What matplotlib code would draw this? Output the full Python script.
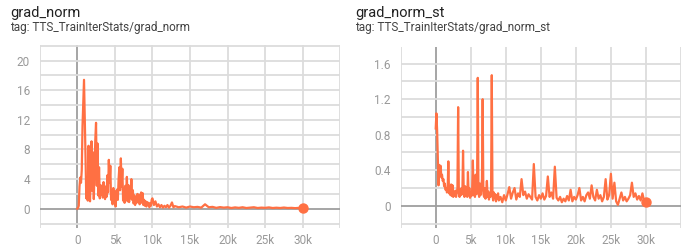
import matplotlib
matplotlib.use("Agg")
import matplotlib.pyplot as plt
import numpy as np

plt.rcParams['font.family'] = ['Roboto', 'DejaVu Sans']

# grad_norm: logged every 100 steps up to 10k, then sparser
gn_steps = np.concatenate([np.arange(0, 10001, 100),
                           np.arange(10200, 13001, 200),
                           np.arange(13500, 30001, 500)])
gn_vals = [
    0.0, 0.1, 0.4, 3.0, 4.2, 3.5, 5.2, 11.2, 14.5, 17.4,      # 0 - 0.9k
    12.5, 7.0, 1.4, 4.0, 1.1, 8.5, 2.2, 1.0, 4.8, 9.1,       # 1k - 1.9k
    2.4, 7.6, 1.3, 5.2, 9.3, 11.6, 3.1, 8.8, 1.8, 5.6,       # 2k - 2.9k
    1.4, 3.2, 1.9, 2.8, 1.5, 3.6, 2.0, 1.3, 3.0, 1.6,        # 3k
    4.5, 2.2, 6.6, 3.5, 5.8, 1.2, 2.5, 0.6, 2.8, 1.0,        # 4k
    2.4, 0.3, 1.8, 2.6, 1.2, 4.0, 5.6, 2.5, 6.8, 3.0,        # 5k
    5.4, 1.1, 2.8, 0.8, 3.1, 1.5, 4.3, 1.0, 3.2, 0.9,        # 6k
    2.6, 1.4, 4.0, 1.2, 2.5, 0.7, 1.8, 0.5, 1.6, 0.8,        # 7k
    2.0, 1.0, 1.9, 0.6, 1.5, 2.2, 0.8, 2.1, 0.5, 1.2,        # 8k
    0.4, 1.0, 0.3, 0.9, 0.5, 0.8, 0.2, 0.7, 0.4, 1.2,        # 9k
    1.4,                                                     # 10k
    0.5, 1.0, 0.3, 0.6, 0.2, 0.5, 0.15, 0.4, 0.2, 0.5,       # 10.2k - 12k
    0.15, 0.4, 0.85, 0.2, 0.35,                              # 12.2k - 13k
    0.2, 0.3, 0.15, 0.3, 0.2, 0.25, 0.15, 0.6, 0.2, 0.25,    # 13.5k - 18k
    0.12, 0.22, 0.15, 0.2, 0.1, 0.18, 0.12, 0.2, 0.1, 0.15,  # 18.5k - 23k
    0.2, 0.1, 0.15, 0.12, 0.18, 0.1, 0.14, 0.1, 0.16, 0.1,   # 23.5k - 28k
    0.12, 0.08, 0.12, 0.1,                                   # 28.5k - 30k
]

# grad_norm_st
st_steps = np.concatenate([np.arange(0, 9001, 100),
                           np.arange(9250, 30001, 250)])
st_vals = [
    0.87, 1.04, 0.85, 0.55, 0.23, 0.46, 0.38, 0.45, 0.32, 0.35,  # 0k
    0.28, 0.30, 0.22, 0.25, 0.18, 0.20, 0.15, 0.18, 0.50, 0.14,  # 1k
    0.17, 0.12, 0.24, 0.11, 0.23, 0.10, 0.15, 0.12, 0.17, 0.10,  # 2k
    0.14, 0.20, 1.11, 0.15, 0.10, 0.18, 0.12, 0.20, 0.13, 0.62,  # 3k
    0.15, 0.10, 0.22, 0.12, 0.17, 0.10, 0.38, 0.12, 0.20, 0.09,  # 4k
    0.15, 0.11, 0.18, 0.51, 0.12, 0.20, 0.10, 0.35, 0.13, 0.22,  # 5k
    1.44, 0.15, 0.10, 0.25, 0.12, 0.18, 0.30, 1.20, 0.14, 0.10,  # 6k
    0.20, 0.08, 0.15, 0.28, 0.10, 0.16, 0.07, 0.14, 0.10, 0.20,  # 7k
    1.47, 0.12, 0.06, 0.15, 0.09, 0.13, 0.05, 0.12, 0.08, 0.14,  # 8k
    0.06,                                                        # 9k
    0.10, 0.04, 0.12, 0.06,   # 9.25k - 10k
    0.13, 0.21, 0.08, 0.15,   # 11k
    0.20, 0.07, 0.14, 0.10,   # 12k
    0.30, 0.12, 0.16, 0.08,   # 13k
    0.13, 0.10, 0.07, 0.47,   # 14k
    0.10, 0.06, 0.12, 0.08,   # 15k
    0.14, 0.07, 0.11, 0.33,   # 16k
    0.10, 0.15, 0.08, 0.44,   # 17k
    0.09, 0.06, 0.10, 0.04,   # 18k
    0.08, 0.05, 0.11, 0.06,   # 19k
    0.18, 0.05, 0.10, 0.07,   # 20k
    0.12, 0.20, 0.06, 0.10,   # 21k
    0.05, 0.12, 0.15, 0.08,   # 22k
    0.23, 0.10, 0.06, 0.18,   # 23k
    0.08, 0.12, 0.05, 0.10,   # 24k
    0.30, 0.07, 0.12, 0.36,   # 25k
    0.08, 0.26, 0.05, 0.01,   # 26k
    0.08, 0.15, 0.06, 0.10,   # 27k
    0.05, 0.08, 0.12, 0.26,   # 28k
    0.10, 0.14, 0.07, 0.11,   # 29k
    0.06, 0.14, 0.05, 0.04,   # 30k
]

xticks = [0, 5000, 10000, 15000, 20000, 25000, 30000]
xlabels = ['0', '5k', '10k', '15k', '20k', '25k', '30k']

line_color = '#ff7043'
grid_color = '#dcdcdc'
zero_color = '#9e9e9e'
tick_color = '#999999'

fig = plt.figure(figsize=(6.9, 2.5), dpi=100)

panels = [
    dict(rect=[0.0575, 0.088, 0.4357, 0.732], x=gn_steps, y=gn_vals,
         ylim=(-2.6, 22.1), ygrid=np.arange(-2, 22.1, 2), yticks=[0, 4, 8, 12, 16, 20],
         ylabels=['0', '4', '8', '12', '16', '20'],
         title='grad_norm', tag='tag: TTS_TrainIterStats/grad_norm', tx=10),
    dict(rect=[0.5807, 0.088, 0.4062, 0.725], x=st_steps, y=st_vals,
         ylim=(-0.25, 1.79), ygrid=np.arange(-0.2, 1.81, 0.2), yticks=[0, 0.4, 0.8, 1.2, 1.6],
         ylabels=['0', '0.4', '0.8', '1.2', '1.6'],
         title='grad_norm_st', tag='tag: TTS_TrainIterStats/grad_norm_st', tx=355),
]

for p in panels:
    ax = fig.add_axes(p['rect'])
    ax.set_xlim(-5000, 35000)
    ax.set_ylim(*p['ylim'])
    for gx in range(-5000, 35001, 5000):
        ax.axvline(gx, color=zero_color if gx == 0 else grid_color, lw=1.3, zorder=0)
    for gy in p['ygrid']:
        ax.axhline(gy, color=zero_color if abs(gy) < 1e-9 else grid_color, lw=1.3, zorder=0)
    ax.plot(p['x'], p['y'], color=line_color, lw=1.6, zorder=3)
    ax.plot(p['x'][-1], p['y'][-1], 'o', color=line_color, ms=6.5, zorder=4)
    for s in ax.spines.values():
        s.set_visible(False)
    ax.set_xticks(xticks)
    ax.set_xticklabels(xlabels)
    ax.set_yticks(p['yticks'])
    ax.set_yticklabels(p['ylabels'])
    ax.tick_params(length=0, labelsize=8.5, colors=tick_color)
    ax.tick_params(axis='y', pad=7)
    ax.tick_params(axis='x', pad=4)
    fig.text(p['tx'] / 690, 1 - 17 / 250, p['title'], fontsize=10.5, color='#212121')
    fig.text(p['tx'] / 690, 1 - 31 / 250, p['tag'], fontsize=8.5, color='#424242')

fig.savefig('out.png', dpi=100)
